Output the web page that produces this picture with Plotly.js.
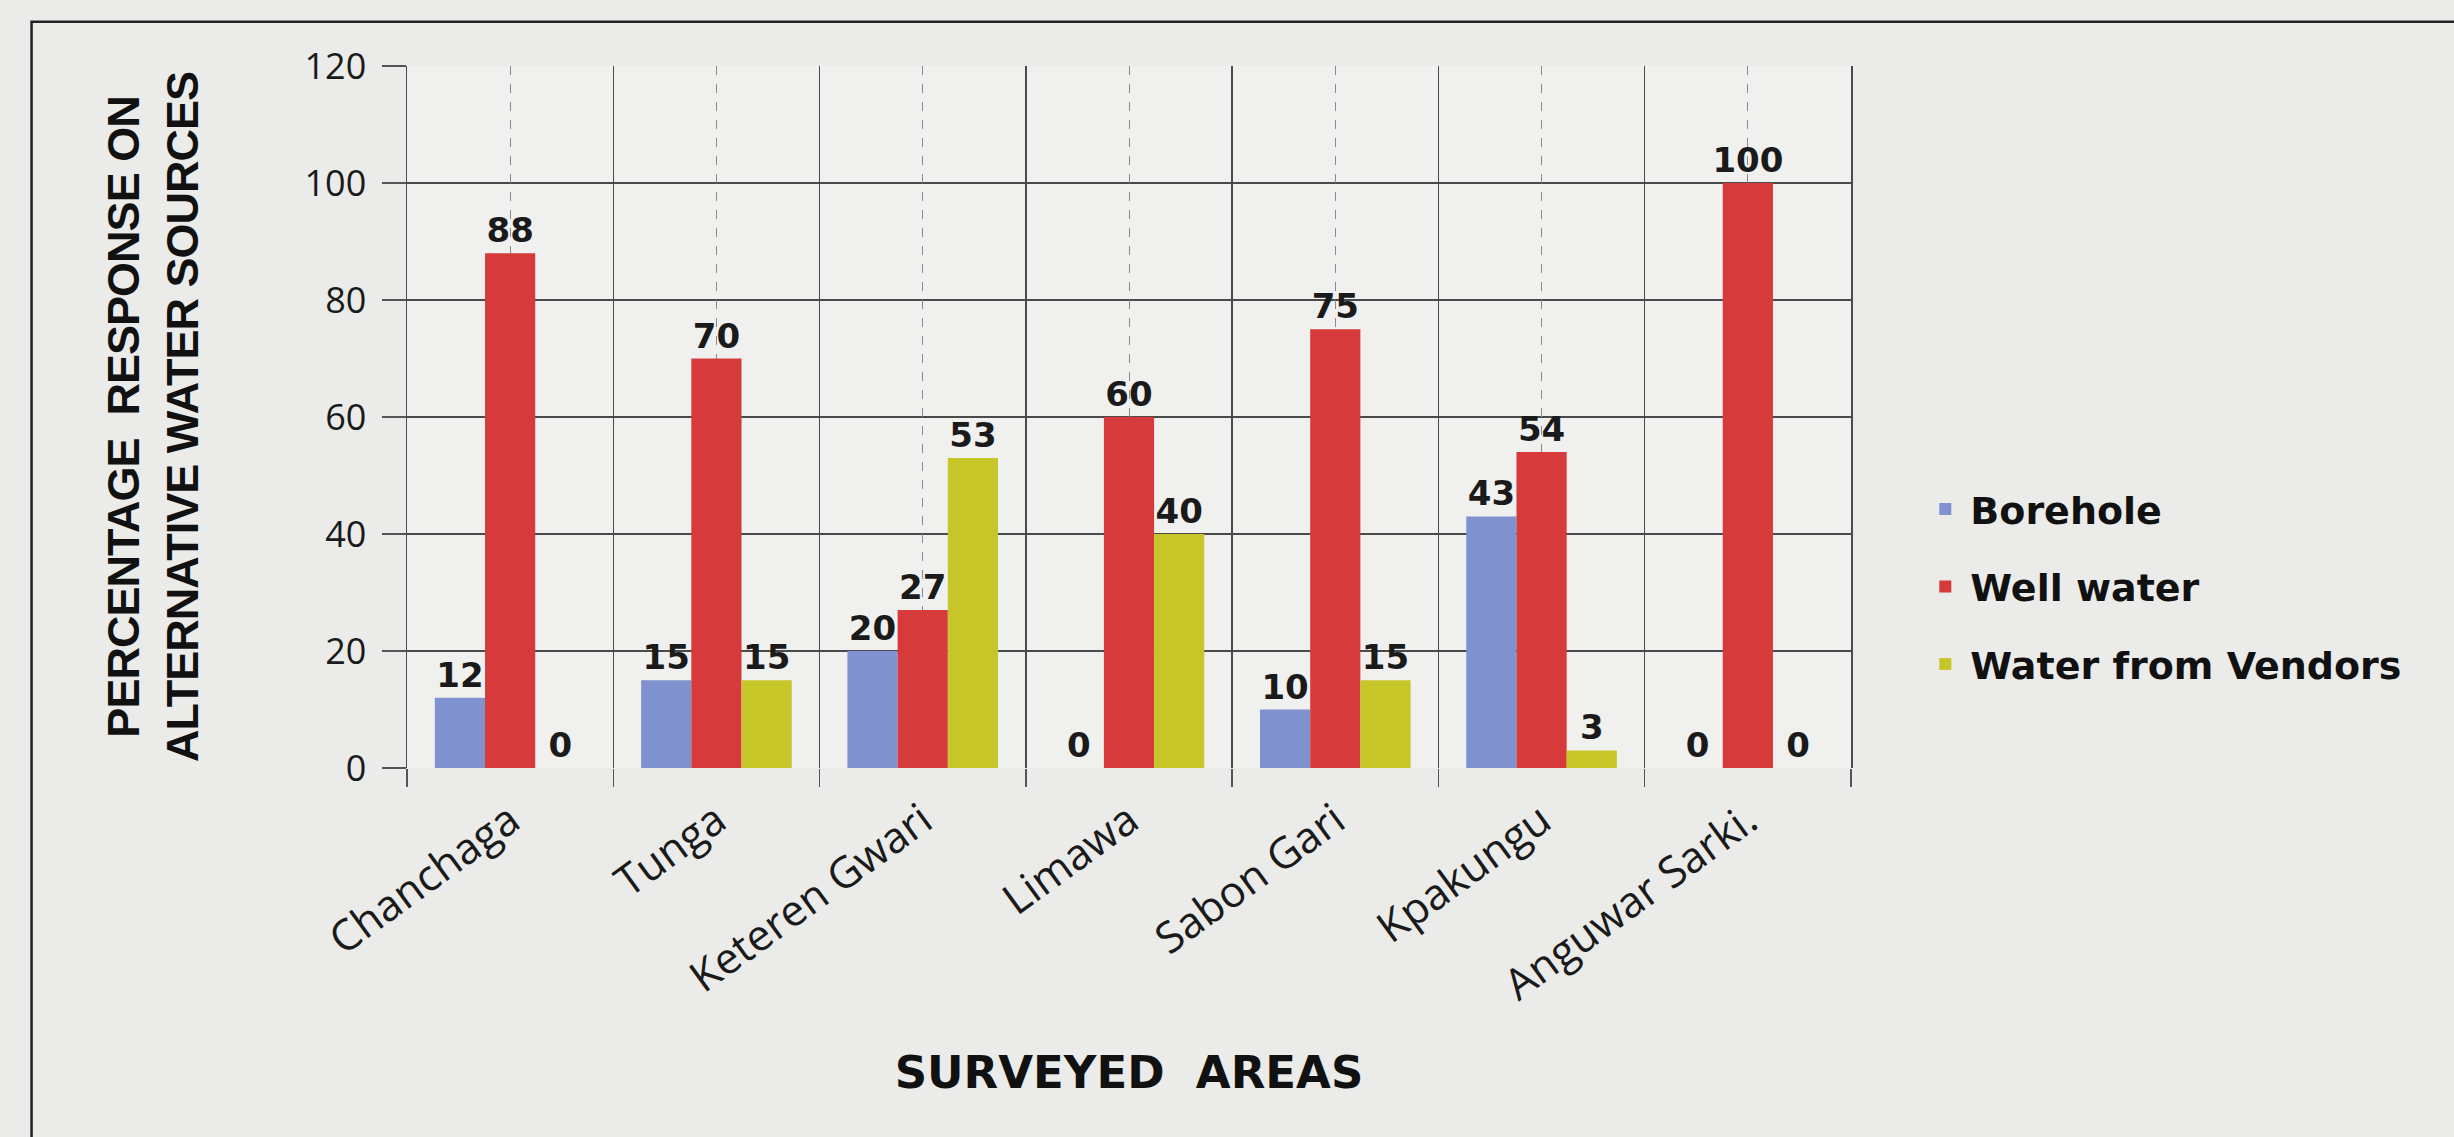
<!DOCTYPE html>
<html>
<head>
<meta charset="utf-8">
<script src="https://cdn.plot.ly/plotly-3.0.1.min.js"></script>
<style>
html,body{margin:0;padding:0;background:#ebebea;}
#chart{width:2454px;height:1137px;}
.g-ytitle text{letter-spacing:-1px;}
</style>
</head>
<body>
<div id="chart"></div>
<script>
var areas = ["Chanchaga", "Tunga", "Keteren Gwari", "Limawa", "Sabon Gari", "Kpakungu", "Anguwar Sarki."];
var borehole = [12, 15, 20, 0, 10, 43, 0];
var wellWater = [88, 70, 27, 60, 75, 54, 100];
var vendors = [0, 15, 53, 40, 15, 3, 0];
var seriesNames = ["Borehole", "Well water", "Water from Vendors"];
var yTicks = [0, 20, 40, 60, 80, 100, 120];

var colors = ["#7f92cf", "#d63a3a", "#c6c629"];
var labelFont = {family: "DejaVu Sans, Verdana", size: 34, color: "#1a1a1a", weight: "bold"};
var series = [borehole, wellWater, vendors];

var traces = series.map(function (vals, i) {
  return {
    type: "bar",
    name: seriesNames[i],
    x: areas,
    y: vals,
    marker: {color: colors[i]},
    text: vals.map(String),
    textposition: "outside",
    textfont: labelFont,
    constraintext: "none",
    cliponaxis: false,
    legendgroup: "g" + i,
    hoverinfo: "x+y+name"
  };
});

// helper trace to draw dashed center lines on an overlaid axis
traces.push({
  type: "scatter",
  mode: "none",
  x: areas,
  y: borehole,
  xaxis: "x2",
  showlegend: false,
  hoverinfo: "skip"
});

var layout = {
  width: 2454,
  height: 1137,
  paper_bgcolor: "#ebebea",
  plot_bgcolor: "#f0f0ef",
  margin: {l: 407, r: 603, t: 66, b: 369},
  barmode: "group",
  bargap: 0.27,
  bargroupgap: 0,
  font: {family: "Open Sans, Liberation Sans", color: "#1e1e1e"},
  showlegend: true,
  legend: {
    x: 1.048, xanchor: "left",
    y: 0.258, yanchor: "middle",
    traceorder: "grouped",
    tracegroupgap: 25,
    font: {family: "DejaVu Sans, Verdana", size: 38, color: "#111", weight: "bold"},
    bgcolor: "rgba(0,0,0,0)",
    itemwidth: 40
  },
  xaxis: {
    type: "category",
    tickson: "boundaries",
    ticks: "outside",
    ticklen: 18,
    tickcolor: "#555",
    tickwidth: 1.5,
    ticklabelstandoff: 18,
    showgrid: true,
    gridcolor: "#4a4a4a",
    gridwidth: 1.5,
    showline: false,
    tickangle: -36,
    tickfont: {family: "Open Sans, Liberation Sans", size: 43, color: "#1a1a1a"},
    title: {text: "<b>SURVEYED  AREAS</b>", font: {family: "DejaVu Sans, Verdana", size: 45, color: "#111"}, standoff: 45},
    zeroline: false
  },
  xaxis2: {
    type: "category",
    overlaying: "x",
    matches: "x",
    showgrid: true,
    gridcolor: "#8a8a8a",
    gridwidth: 1,
    griddash: "dash",
    showticklabels: false,
    ticks: "",
    showline: false,
    zeroline: false
  },
  yaxis: {
    range: [0, 120],
    tickvals: yTicks,
    ticktext: yTicks.map(String),
    ticks: "outside",
    ticklen: 24,
    tickcolor: "#555",
    tickwidth: 1.5,
    ticklabelstandoff: 8,
    showgrid: true,
    gridcolor: "#4a4a4a",
    gridwidth: 1.5,
    showline: true,
    linecolor: "#4a4a4a",
    linewidth: 1.5,
    mirror: true,
    zeroline: false,
    tickfont: {family: "Open Sans, Liberation Sans", size: 36, color: "#1a1a1a"},
    title: {
      text: "<b>PERCENTAGE  RESPONSE ON<br>ALTERNATIVE WATER SOURCES</b>",
      font: {family: "Liberation Sans Narrow, Liberation Sans, Arial", size: 45, color: "#111"},
      standoff: 92
    }
  },
  shapes: [{
    type: "rect", xref: "paper", yref: "paper",
    x0: -0.26, x1: 1.6, y0: -1, y1: 1.063,
    line: {color: "#222", width: 2.5},
    fillcolor: "rgba(0,0,0,0)",
    layer: "below"
  }]
};

Plotly.newPlot("chart", traces, layout, {displayModeBar: false, staticPlot: true});
</script>
</body>
</html>
